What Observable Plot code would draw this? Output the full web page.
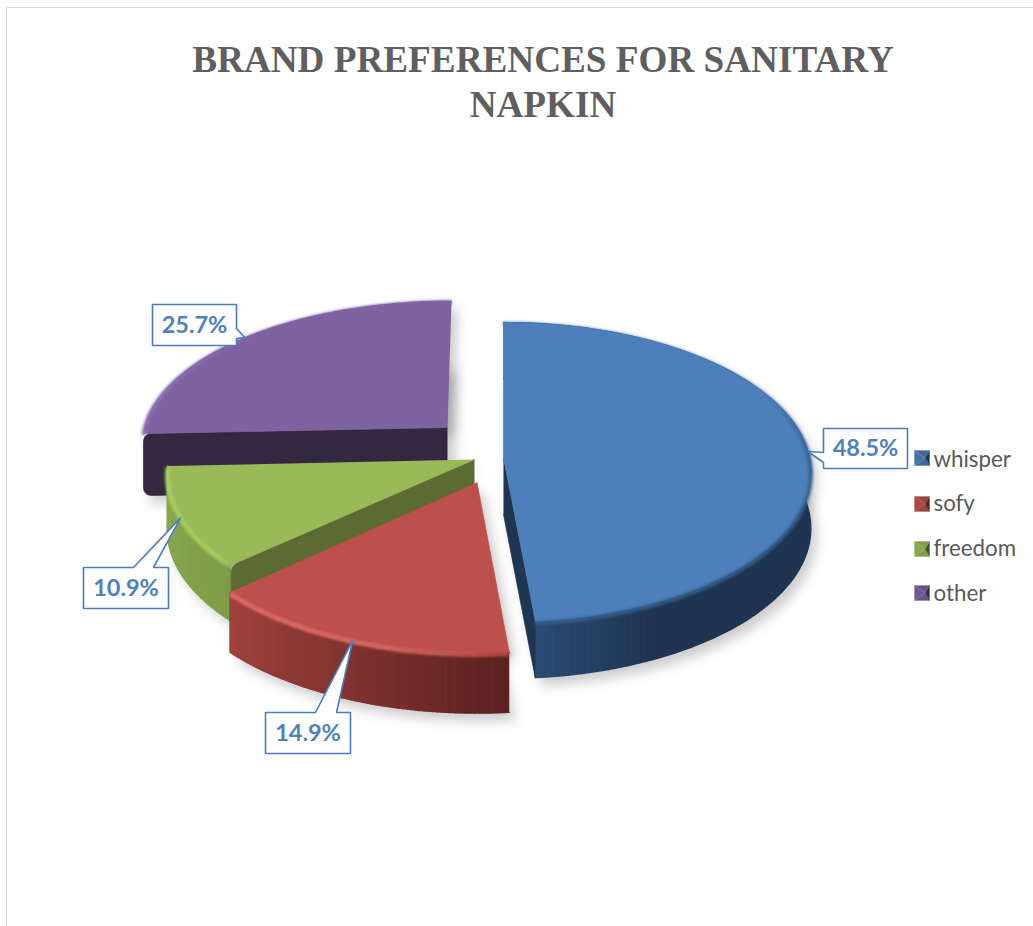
<!DOCTYPE html>
<html>
<head>
<meta charset="utf-8">
<script src="https://cdn.jsdelivr.net/npm/d3@7"></script>
<script src="https://cdn.jsdelivr.net/npm/@observablehq/plot@0.6"></script>
<style>
  html, body { margin: 0; padding: 0; background: #fff; overflow: hidden; }
  #page { position: relative; width: 1033px; height: 926px; }
  #frame { position: absolute; left: 6px; top: 7px; right: 0; bottom: 0;
           border-top: 1.5px solid #d9d9d9; border-left: 1.5px solid #d9d9d9; pointer-events: none; }
  #title { height: 130px; box-sizing: border-box; padding: 37px 0 0 53px; text-align: center;
           font: bold 37.2px/45px "Liberation Serif", serif; color: #5f5f5f; }
  #chart svg { display: block; }
</style>
</head>
<body>
<div id="page">
  <div id="frame"></div>
  <div id="title">BRAND PREFERENCES FOR SANITARY<br>NAPKIN</div>
  <div id="chart"></div>
</div>
<script>
// Survey results
const brands = ["whisper", "sofy", "freedom", "other"];
const shares = [48.5, 14.9, 10.9, 25.7];

// Colours per brand
const faceColors = ["#4d7fbb", "#bd4f4c", "#9aba59", "#7f62a0"];
const cutColors = ["#1f3552", "#5c2220", "#5b6b31", "#342840"];
const rimColors = ["#35608f", "#e8726e", "#aad560", "#8f72b2"];
const rimFadeFrom = [0.35, 0.02, 0, 0.6];   // arc position where the bevel is still invisible
const rimFadeTo = [0.5, 0.4, 0.1, 0.2];     // arc position where it reaches full strength
const wallStops = [
  ["#1f3450", "#1f3450", "#2a4a72"],
  ["#5a2120", "#7f322f", "#a0413d"],
  ["#7f9c47", "#85a34a", "#8aa84f"],
  null                                      // its outer wall never shows
];
const wallBreak = [0.88, 0.5, 0.5, 0.5];

// Exploded pie layout: where each wedge's point sits and how it is foreshortened
const apexX = [503, 476.5, 474, 447];
const apexY = [458, 482, 459, 427];
const depths = [56, 60, 56, 62];
const nearScale = [1, 1.015, 1, 0.99];
const flatten = [1, 1.025, 1, 0.94];
const lean = [0, 0, 0, -0.032];
const cutRound = [0, 0, 9, 9];
const cutEdge = ["end", null, "start", "start"];   // radial edge that shows a cut face
const radiusX = 306, radiusY = 148.7, perspective = 0.0934;
const strips = 150, rimSegment = 5;

// Callout boxes: left, top, right, bottom
const boxLeft = [823, 265, 83, 152];
const boxTop = [428, 712, 567, 304];
const boxRight = [907, 350, 168, 236];
const boxBottom = [468, 753, 608, 345];
// Side of the box the pointer leaves from, and the two places it joins that side
const boxSide = ["left", "top", "top", "right"];
const pointerFrom = [452, 315, 133, 328];
const pointerTo = [462, 336, 153, 338];

// Legend layout
const legendX = 914, legendSize = 15;
const legendTop = [450, 496, 541, 585];
const legendBaseline = [459, 503, 548, 593];

const pie = d3.pie().sort(null).startAngle(0).endAngle(2 * Math.PI)(shares);

function project(i, a) {
  const w = 1 + perspective * Math.cos(a);
  const dx = radiusX * Math.sin(a) / w * nearScale[i];
  const dy = -radiusY * Math.cos(a) / w * nearScale[i] * flatten[i];
  return [apexX[i] + dx + lean[i] * dy, apexY[i] + dy];
}

function arcAngles(i) {
  const {startAngle: a0, endAngle: a1} = pie[i];
  return d3.range(0, strips + 1).map((k) => a0 + (a1 - a0) * k / strips);
}

// Replaces a polygon corner with a short quadratic curve
function roundCorner(prev, c, next, r) {
  if (!r) return [c];
  const toward = (a, b) => {
    const len = Math.hypot(b[0] - a[0], b[1] - a[1]);
    return [a[0] + (b[0] - a[0]) * r / len, a[1] + (b[1] - a[1]) * r / len];
  };
  const p0 = toward(c, prev), p1 = toward(c, next);
  return d3.range(0, 9).map((k) => {
    const t = k / 8, u = 1 - t;
    return [u * u * p0[0] + 2 * u * t * c[0] + t * t * p1[0], u * u * p0[1] + 2 * u * t * c[1] + t * t * p1[1]];
  });
}

const tops = [], walls = [], cuts = [], rims = [], shadows = [];
brands.forEach((brand, i) => {
  const angles = arcAngles(i);
  const apex = [apexX[i], apexY[i]];
  const rimPts = angles.map((a) => project(i, a));
  const d = depths[i];

  [apex, ...rimPts].forEach(([x, y]) => tops.push({id: brand, x, y, color: faceColors[i]}));
  [apex, ...rimPts].forEach(([x, y]) => shadows.push({id: brand, x: x + 6, y: y + d + 8}));
  [apex, ...rimPts].forEach(([x, y]) => shadows.push({id: `${brand}-top`, x: x + 6, y: y + 8}));

  // Outer wall, shaded along the rim; runs of one colour become a single polygon
  if (wallStops[i]) {
    const ramp = d3.scaleLinear().domain([0, wallBreak[i], 1]).range(wallStops[i]).interpolate(d3.interpolateRgb);
    let runStart = 0;
    for (let k = 0; k < strips; ++k) {
      const color = ramp(k / (strips - 1));
      const last = k === strips - 1 || ramp((k + 1) / (strips - 1)) !== color;
      if (!last) continue;
      const run = rimPts.slice(runStart, k + 2);
      const id = `${brand}-wall-${k}`;
      [...run, ...run.slice().reverse().map(([x, y]) => [x, y + d])]
        .forEach(([x, y]) => walls.push({id, slice: i, x, y, color}));
      runStart = k + 1;
    }
  }

  // Flat cut face running from the rim back to the point
  if (cutEdge[i]) {
    const [ex, ey] = cutEdge[i] === "end" ? rimPts[strips] : rimPts[0];
    const a = [apex[0], apex[1]], b = [ex, ey], c = [ex, ey + d], e = [apex[0], apex[1] + d];
    const outline = [a, ...roundCorner(a, b, c, cutRound[i]), ...roundCorner(b, c, e, cutRound[i]), e];
    outline.forEach(([x, y]) => cuts.push({id: `${brand}-cut`, slice: i, x, y, color: cutColors[i]}));
  }

  // Bevel along the rim, blended from the face colour to the highlight
  const fade = d3.scaleLinear().domain([rimFadeFrom[i], rimFadeTo[i]]).clamp(true);
  const mix = d3.interpolateRgb(faceColors[i], rimColors[i]);
  for (let k = 0; k < strips; k += rimSegment) {
    const id = `${brand}-rim-${k}`;
    const color = mix(fade((k + rimSegment / 2) / strips));
    rimPts.slice(k, k + rimSegment + 1)
      .forEach(([x, y]) => rims.push({id, slice: i, x, y: y + 1.5, color}));
  }
});

// Callouts, with the pointer tip on the rim at the middle of each wedge
const callouts = [], calloutText = [];
brands.forEach((brand, i) => {
  const [tx, ty] = project(i, (pie[i].startAngle + pie[i].endAngle) / 2);
  const L = boxLeft[i], T = boxTop[i], R = boxRight[i], B = boxBottom[i];
  const p = pointerFrom[i], q = pointerTo[i];
  const pts = {
    left: [[L, T], [R, T], [R, B], [L, B], [L, q], [tx, ty], [L, p], [L, T]],
    top: [[L, T], [p, T], [tx, ty], [q, T], [R, T], [R, B], [L, B], [L, T]],
    right: [[L, T], [R, T], [R, p], [tx, ty], [R, q], [R, B], [L, B], [L, T]]
  }[boxSide[i]];
  pts.forEach(([x, y]) => callouts.push({id: brand, x, y}));
  calloutText.push({x: (L + R) / 2, y: (T + B) / 2, label: `${shares[i].toFixed(1)}%`});
});

// Legend swatches: four bevelled triangles meeting right of centre
const swatches = [], legendText = [];
brands.forEach((brand, i) => {
  const x0 = legendX, x1 = legendX + legendSize, y0 = legendTop[i], y1 = y0 + legendSize;
  const cx = x0 + legendSize * 0.72, cy = y0 + legendSize / 2;
  const face = d3.color(faceColors[i]);
  const facets = [
    [[[x0, y0], [x1, y0], [cx, cy]], face.darker(0.5)],
    [[[x0, y1], [x1, y1], [cx, cy]], face.darker(0.5)],
    [[[x0, y0], [x0, y1], [cx, cy]], face.darker(0.3)],
    [[[x1, y0], [x1, y1], [cx, cy]], face.darker(2.4)]
  ];
  facets.forEach(([poly, color], k) => {
    poly.forEach(([x, y]) => swatches.push({id: `${brand}-${k}`, x, y, color: color.formatHex()}));
  });
  legendText.push({x: x1 + 4, y: legendBaseline[i], label: brand});
});

const polygon = (data, extra = {}) => Plot.line(data, {
  x: "x", y: "y", z: "id", fill: "color", stroke: "color", strokeWidth: 0.7, curve: "linear", ...extra
});

// Wedges are painted back to front
const order = [3, 2, 1, 0];
const sliceMarks = order.flatMap((i) => [
  polygon(walls.filter((d) => d.slice === i), {strokeWidth: 1.3}),
  polygon(cuts.filter((d) => d.slice === i)),
  polygon(tops.filter((d) => d.id === brands[i])),
  Plot.line(rims.filter((d) => d.slice === i), {
    x: "x", y: "y", z: "id", stroke: "color", strokeWidth: 4, strokeLinecap: "butt", imageFilter: "blur(1.4px)"
  })
]);

const chart = Plot.plot({
  width: 1033,
  height: 796,
  margin: 0,
  x: {domain: [0, 1033], range: [0, 1033], axis: null},
  y: {domain: [130, 926], range: [0, 796], axis: null},
  color: {type: "identity"},
  marks: [
    Plot.line(shadows, {x: "x", y: "y", z: "id", fill: "#000", stroke: "none", fillOpacity: 0.2, imageFilter: "blur(6px)"}),
    ...sliceMarks,
    Plot.line(callouts, {x: "x", y: "y", z: "id", fill: "#fff", stroke: "#4a7cc4", strokeWidth: 1.6, strokeLinejoin: "miter"}),
    Plot.text(calloutText, {x: "x", y: "y", text: "label", fontFamily: "Lato", fontWeight: "bold", fontSize: 23.5, fill: "#4f81bd"}),
    polygon(swatches, {strokeWidth: 0.3}),
    Plot.text(legendText, {x: "x", y: "y", text: "label", textAnchor: "start", fontFamily: "Lato", fontSize: 22.3, fill: "#595959"})
  ]
});
document.getElementById("chart").appendChild(chart);
</script>
</body>
</html>
